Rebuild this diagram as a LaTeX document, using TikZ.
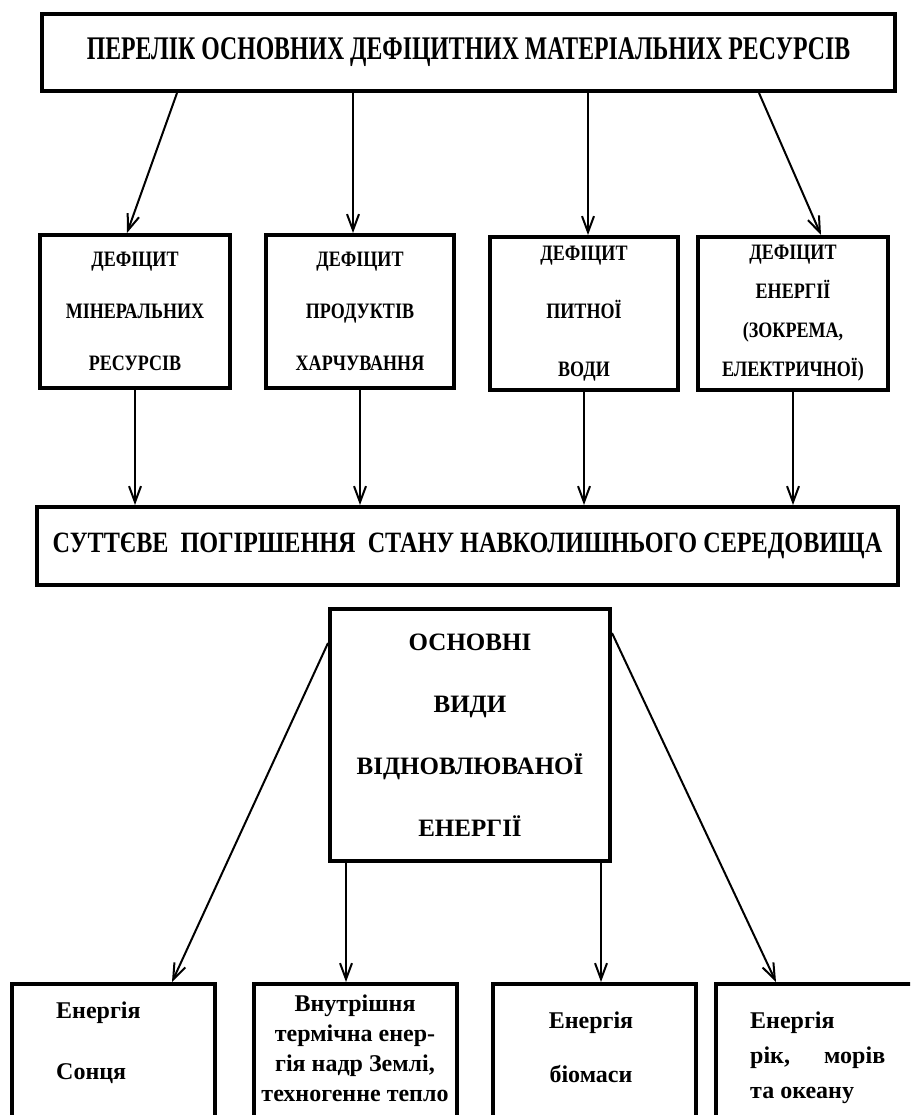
\documentclass[tikz,border=0pt]{standalone}
\usepackage{fontspec}
\setmainfont{Liberation Serif}
\newfontfamily\narrowtop[FakeStretch=0.72]{Liberation Serif}
\newfontfamily\narrowmid[FakeStretch=0.82]{Liberation Serif}
\usetikzlibrary{arrows.meta, positioning}

\begin{document}
\begin{tikzpicture}[
    x=1pt, y=-1pt,
    frame/.style={rectangle, draw, line width=4pt, inner sep=0pt, align=center},
    lackbox/.style={frame, minimum width=190pt, minimum height=153pt, font=\narrowmid\bfseries\fontsize{22}{#1}\selectfont},
    lackbox/.default=52,
    kindbox/.style={frame, minimum width=203pt, minimum height=220pt},
    kindtext/.style={inner sep=0pt, font=\bfseries\fontsize{24}{#1}\selectfont},
    link/.style={line width=2pt, -{Straight Barb[length=16pt, width=12pt]}}
  ]
  \useasboundingbox (0,0) rectangle (910,1115);
  \clip (0,0) rectangle (910,1115);

  % Resources list
  \node[frame, minimum width=853pt, minimum height=77pt, font=\narrowtop\bfseries\fontsize{33}{36}\selectfont] (list) at (468.5,52.5) {ПЕРЕЛІК ОСНОВНИХ ДЕФІЦИТНИХ МАТЕРІАЛЬНИХ РЕСУРСІВ};

  % Deficits
  \node[lackbox] (mineral) at (135,311.5) {ДЕФІЦИТ\\МІНЕРАЛЬНИХ\\РЕСУРСІВ};
  \node[lackbox, minimum width=188pt] (food) at (360,311.5) {ДЕФІЦИТ\\ПРОДУКТІВ\\ХАРЧУВАННЯ};
  \node[lackbox=58, minimum width=188pt] (water) at (584,313.5) {ДЕФІЦИТ\\ПИТНОЇ\\ВОДИ};
  \node[lackbox=39] (energy) at (793,313.5) {ДЕФІЦИТ\\ЕНЕРГІЇ\\(ЗОКРЕМА,\\ЕЛЕКТРИЧНОЇ)};

  % Environment
  \node[frame, minimum width=861pt, minimum height=78pt, font=\narrowmid\bfseries\fontsize{29.5}{34}\selectfont] (decline) at (467.5,546) {СУТТЄВЕ\ \ ПОГІРШЕННЯ\ \ СТАНУ НАВКОЛИШНЬОГО СЕРЕДОВИЩА};

  % Renewable energy
  \node[frame, minimum width=280pt, minimum height=252pt, font=\bfseries\fontsize{25}{62}\selectfont] (renew) at (470,735) {ОСНОВНІ\\ВИДИ\\ВІДНОВЛЮВАНОЇ\\ЕНЕРГІЇ};

  \node[kindbox] (solar) at (113.5,1094) {};
  \node[kindbox] (heat) at (355,1094) {};
  \node[kindbox] (bio) at (594,1094) {};
  \node[kindbox] (tide) at (817,1094) {};

  \node[kindtext=61, anchor=north west, align=left] (solartext) at ([xshift=46pt, yshift=-20pt]solar.north west) {Енергія\\Сонця};
  \node[kindtext=30, anchor=north, align=center] (heattext) at ([yshift=-12.5pt]heat.north) {Внутрішня\\термічна енер-\\гія надр Землі,\\техногенне тепло};
  \node[kindtext=54, anchor=north, align=center] (biotext) at ([xshift=-3pt, yshift=-30pt]bio.north) {Енергія\\біомаси};
  \node[kindtext=35, anchor=north west, align=left] (tidetext) at ([xshift=36.5pt, yshift=-29.5pt]tide.north west) {Енергія\\\makebox[135pt][s]{рік, морів}\\та океану};

  % Connections
  \draw[link] ([xshift=137pt]list.south west) -- ([xshift=89pt]mineral.north west);
  \draw[link] ([xshift=313pt]list.south west) -- ([xshift=89pt]food.north west);
  \draw[link] ([xshift=548pt]list.south west) -- ([xshift=100pt]water.north west);
  \draw[link] ([xshift=719pt]list.south west) -- ([xshift=125pt]energy.north west);

  \draw[link] (mineral.south) -- (mineral.south |- decline.north);
  \draw[link] (food.south) -- (food.south |- decline.north);
  \draw[link] (water.south) -- (water.south |- decline.north);
  \draw[link] (energy.south) -- (energy.south |- decline.north);

  \coordinate (heatfoot) at ([xshift=18pt]renew.south west);
  \coordinate (biofoot) at ([xshift=-11pt]renew.south east);
  \draw[link] ([yshift=-36pt]renew.north west) -- ([xshift=162pt]solar.north west);
  \draw[link] (heatfoot) -- (heatfoot |- heat.north);
  \draw[link] (biofoot) -- (biofoot |- bio.north);
  \draw[link] ([yshift=-26pt]renew.north east) -- ([xshift=62.5pt]tide.north west);
\end{tikzpicture}
\end{document}
